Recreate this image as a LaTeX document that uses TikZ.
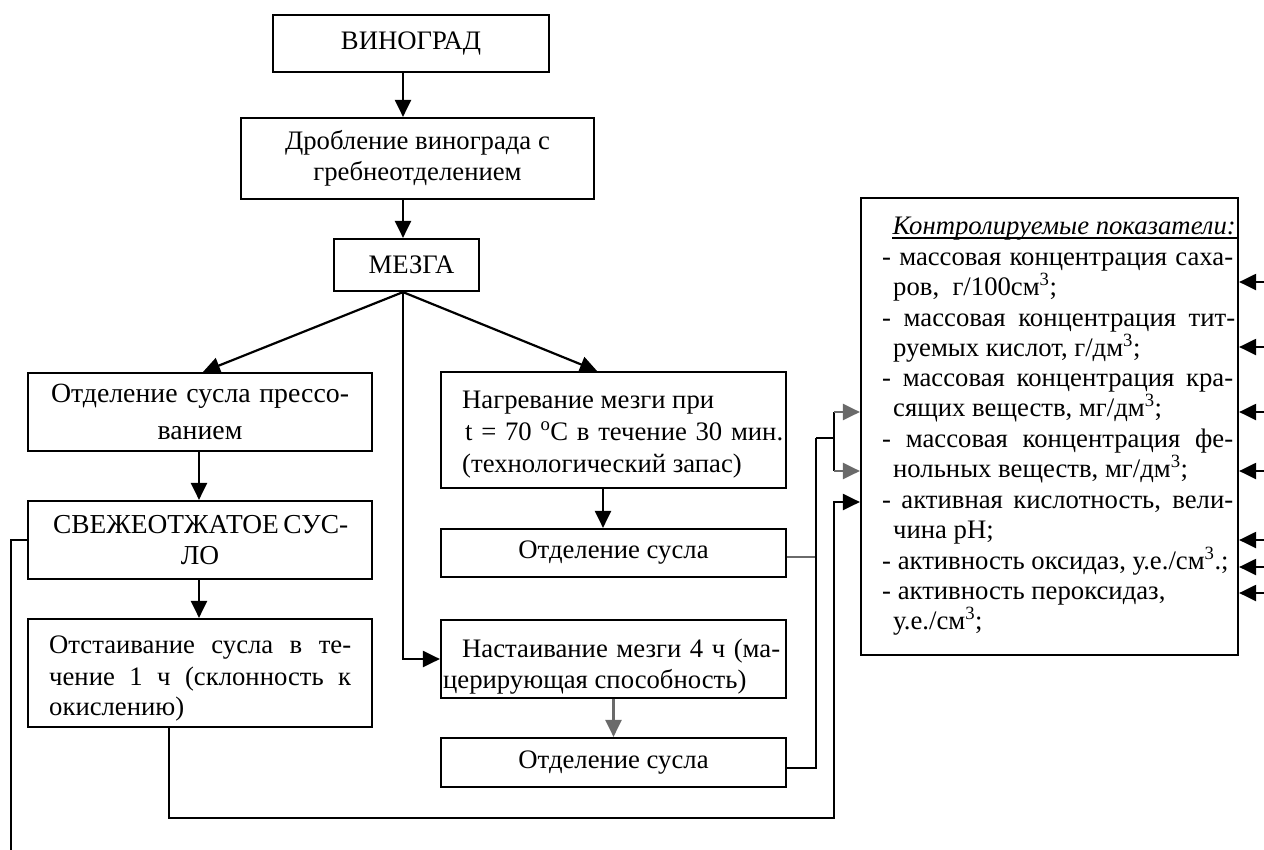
\documentclass[tikz,border=0pt]{standalone}
\usepackage{fontspec}
\setmainfont{Liberation Serif}
\usetikzlibrary{arrows.meta}
\definecolor{gr}{HTML}{6A6A6A}
\begin{document}
\begin{tikzpicture}[x=1pt,y=-1pt,
  every node/.style={font=\fontsize{26.7}{31}\selectfont},
  box/.style={draw,line width=2.2pt,inner sep=0pt,align=center},
  txt/.style={inner sep=0pt,anchor=base west},
  ln/.style={line width=2.2pt},
  arr/.style={line width=2.2pt,-{Triangle[length=17pt,width=16pt]}},
  garr/.style={arr,draw=gr,fill=gr}]
\useasboundingbox (0,0) rectangle (1264,849);
% boxes
\node[box,minimum width=276pt,minimum height=57pt] (vin) at (411,43.5) {ВИНОГРАД};
\node[box,minimum width=353pt,minimum height=81pt] (drob) at (417.5,158.5) {Дробление винограда с\\гребнеотделением};
\node[box,minimum width=145pt,minimum height=52pt] (mez) at (406.5,265) {\hspace*{10pt}МЕЗГА};
\node[box,minimum width=344pt,minimum height=78pt,font=\fontsize{27.8}{37}\selectfont] (press) at (200,412) {\makebox[298pt][s]{Отделение сусла прессо-}\\ванием};
\node[box,minimum width=344pt,minimum height=78pt,font=\fontsize{27.4}{31}\selectfont] (svez) at (200,540) {\makebox[294pt][s]{СВЕЖЕОТЖАТОЕ СУС-}\\ЛО};
\node[box,minimum width=344pt,minimum height=108pt] (otst) at (200,673) {};
\node[box,minimum width=345pt,minimum height=116pt] (nagr) at (613.5,430) {};
\node[box,minimum width=345pt,minimum height=48pt] (otd1) at (613.5,553) {Отделение сусла};
\node[box,minimum width=345pt,minimum height=78pt] (nast) at (613.5,659) {};
\node[box,minimum width=345pt,minimum height=49pt] (otd2) at (613.5,762.5) {Отделение сусла};
\node[box,minimum width=377pt,minimum height=457pt] (ctrl) at (1049.5,426.5) {};
% texts in boxes
\node[txt] (otstA) at (49,653) {\makebox[302pt][s]{Отстаивание сусла в те-}};
\node[txt] (otstB) at (49,685) {\makebox[302pt][s]{чение 1 ч (склонность к}};
\node[txt] (otstC) at (49,715) {окислению)};
\node[txt] (nagrA) at (462,408) {Нагревание мезги при};
\node[txt] (nagrB) at (465,440) {\makebox[318pt][s]{t = 70 \textsuperscript{o}C в течение 30 мин.}};
\node[txt] (nagrC) at (462,472) {(технологический запас)};
\node[txt] (nastA) at (462,657) {\makebox[318pt][s]{Настаивание мезги 4 ч (ма-}};
\node[txt] (nastB) at (443,688) {церирующая способность)};
% control list
\node[inner sep=0pt,anchor=base east] (title) at (1236,234) {\itshape Контролируемые показатели:};
\draw[line width=1.6pt] ([yshift=-4pt]title.base west) -- ([yshift=-4pt]title.base east -| ctrl.east);
\node[txt] (c0) at (882,265) {\makebox[351pt][s]{- массовая концентрация саха-}};
\node[txt] (c1) at (893,295) {ров,\ \ г/100см\textsuperscript{3};};
\node[txt] (c2) at (882,326) {\makebox[353pt][s]{- массовая концентрация тит-}};
\node[txt] (c3) at (893,356) {руемых кислот, г/дм\textsuperscript{3};};
\node[txt] (c4) at (882,386) {\makebox[351pt][s]{- массовая концентрация кра-}};
\node[txt] (c5) at (893,416) {сящих веществ, мг/дм\textsuperscript{3};};
\node[txt] (c6) at (882,447) {\makebox[351pt][s]{- массовая концентрация фе-}};
\node[txt] (c7) at (893,477) {нольных веществ, мг/дм\textsuperscript{3};};
\node[txt] (c8) at (882,508) {\makebox[351pt][s]{- активная кислотность, вели-}};
\node[txt] (c9) at (893,538) {чина pH;};
\node[txt] (c10) at (882,569) {- активность оксидаз, у.е./см\textsuperscript{3}.;};
\node[txt] (c11) at (882,599) {- активность пероксидаз,};
\node[txt] (c12) at (893,629) {у.е./см\textsuperscript{3};};
% main flow
\draw[arr] ([xshift=-8pt]vin.south) -- ([xshift=-8pt]vin.south |- drob.north);
\draw[arr] ([xshift=-14.5pt]drob.south) -- ([xshift=-14.5pt]drob.south |- mez.north);
\coordinate (mz) at ([xshift=-3.5pt]mez.south);
\draw[arr] (mz) -- ([xshift=3pt]press.north);
\draw[arr] (mz) -- ([xshift=-16.5pt]nagr.north);
\draw[arr] (mz) -- (mz |- nast.west) -- (nast.west);
\draw[arr] ([xshift=-1pt]press.south) -- ([xshift=-1pt]svez.north);
\draw[arr] ([xshift=-1pt]svez.south) -- ([xshift=-1pt]otst.north);
\draw[arr] ([xshift=-10.5pt]nagr.south) -- ([xshift=-10.5pt]nagr.south |- otd1.north);
\draw[garr] (nast.south) -- (otd2.north);
% left loop line
\coordinate (lA) at (11,540);
\coordinate (lB) at (11,852);
\draw[ln] (svez.west) -- (lA) -- (lB);
% from otstaivanie to control box
\coordinate (oA) at ([xshift=-31pt]otst.south);
\coordinate (oB) at (oA |- 0,818);
\coordinate (oC) at (834,818);
\coordinate (oD) at (834,502);
\draw[arr] (oA) -- (oB) -- (oC) -- (oD) -- (oD -| ctrl.west);
% grey branch
\coordinate (gA) at (816,557);
\coordinate (gB) at (816,438);
\coordinate (gC) at (816,768);
\coordinate (gD) at (834,438);
\coordinate (gE) at (834,412);
\coordinate (gF) at (834,471);
\draw[ln,draw=gr] (otd1.east |- gA) -- (gA);
\draw[ln] (gB) -- (gC) -- (otd2.east |- gC);
\draw[ln] (gB) -- (gD);
\draw[ln] (gE) -- (gF);
\draw[garr] (gE) -- (gE -| ctrl.west);
\draw[garr] (gF) -- (gF -| ctrl.west);
% arrows from right
\foreach \yy [count=\i] in {282,347,412,471,540,567,593}{
  \coordinate (r\i) at (1264,\yy);
  \draw[arr] (r\i) -- (r\i -| ctrl.east);
}
\end{tikzpicture}
\end{document}
